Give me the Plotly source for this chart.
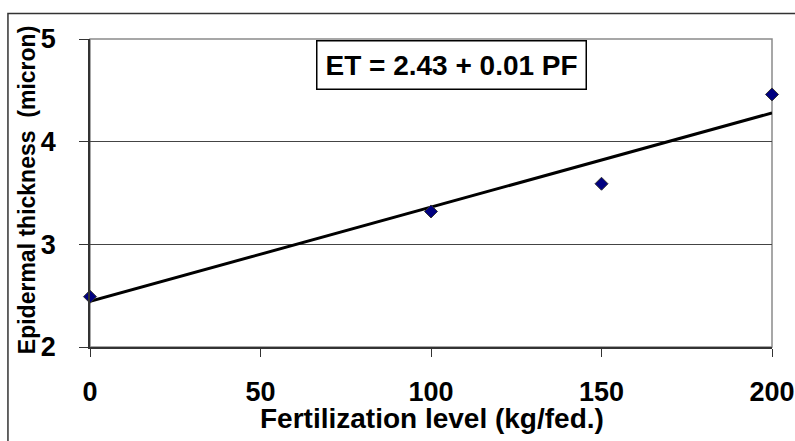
import plotly.graph_objects as go

fert_level = [0, 100, 150, 200]
epidermal = [2.49, 3.32, 3.59, 4.46]
trend_x = [0, 200]
trend_y = [2.445, 4.28]
x_ticks = [0, 50, 100, 150, 200]
y_ticks = [2, 3, 4, 5]
equation = "ET = 2.43 + 0.01 PF"

FONT = "Liberation Sans, Arial, sans-serif"

fig = go.Figure()
fig.add_trace(go.Scatter(x=trend_x, y=trend_y, mode="lines",
                         line=dict(color="black", width=3),
                         cliponaxis=False, showlegend=False))
fig.add_trace(go.Scatter(x=fert_level, y=epidermal, mode="markers",
                         marker=dict(symbol="diamond", size=10, color="#000080",
                                     line=dict(color="#333333", width=1)),
                         cliponaxis=False, showlegend=False))

fig.update_layout(
    width=795, height=441,
    margin=dict(l=90, r=23, t=39, b=94, autoexpand=False),
    paper_bgcolor="white", plot_bgcolor="white",
    font=dict(family=FONT, color="black"),
    showlegend=False,
    xaxis=dict(range=[0, 200], tickvals=x_ticks, ticktext=[str(v) for v in x_ticks],
               showgrid=False, zeroline=False, automargin=False,
               showline=True, linecolor="#333333", linewidth=2,
               ticks="outside", ticklen=8, tickcolor="#333333", tickwidth=1,
               ticklabelstandoff=12,
               tickfont=dict(size=27, family=FONT, weight="bold", color="black")),
    yaxis=dict(range=[2, 5], tickvals=y_ticks, ticktext=[str(v) for v in y_ticks],
               showgrid=True, gridcolor="#444444", gridwidth=1, zeroline=False,
               automargin=False,
               showline=True, linecolor="#333333", linewidth=1.5,
               ticks="outside", ticklen=9, tickcolor="#333333", tickwidth=1,
               ticklabelstandoff=18,
               tickfont=dict(size=27, family=FONT, weight="bold", color="black")),
    shapes=[
        dict(type="rect", xref="paper", yref="paper", x0=0, x1=1, y0=0, y1=1,
             line=dict(color="#8a8a8a", width=1.5), layer="between"),
        dict(type="rect", xref="paper", yref="paper", x0=-0.1203, x1=1.2,
             y0=-0.6, y1=1.0827, line=dict(color="#333333", width=1.5), layer="above"),
    ],
    annotations=[
        dict(text=equation, xref="paper", yref="paper", x=0.5296, y=0.917,
             xanchor="center", yanchor="middle", showarrow=False,
             font=dict(size=28, family=FONT, weight="bold", color="black"),
             bgcolor="white", bordercolor="black", borderwidth=1.5, borderpad=8),
        dict(text="Fertilization level (kg/fed.)", xref="paper", yref="paper",
             x=0.502, y=-0.232, xanchor="center", yanchor="middle", showarrow=False,
             font=dict(size=28, family=FONT, weight="bold", color="black")),
        dict(text="<b>Epidermal thickness&nbsp; (micron)</b>", xref="paper", yref="paper",
             x=-0.092, y=0.51, xanchor="center", yanchor="middle", showarrow=False,
             textangle=-90,
             font=dict(size=23, family=FONT, color="black")),
    ],
)

fig.write_html("out.html", config={"displayModeBar": False},
               post_script="document.body.style.margin='0';document.body.style.overflow='hidden';")
